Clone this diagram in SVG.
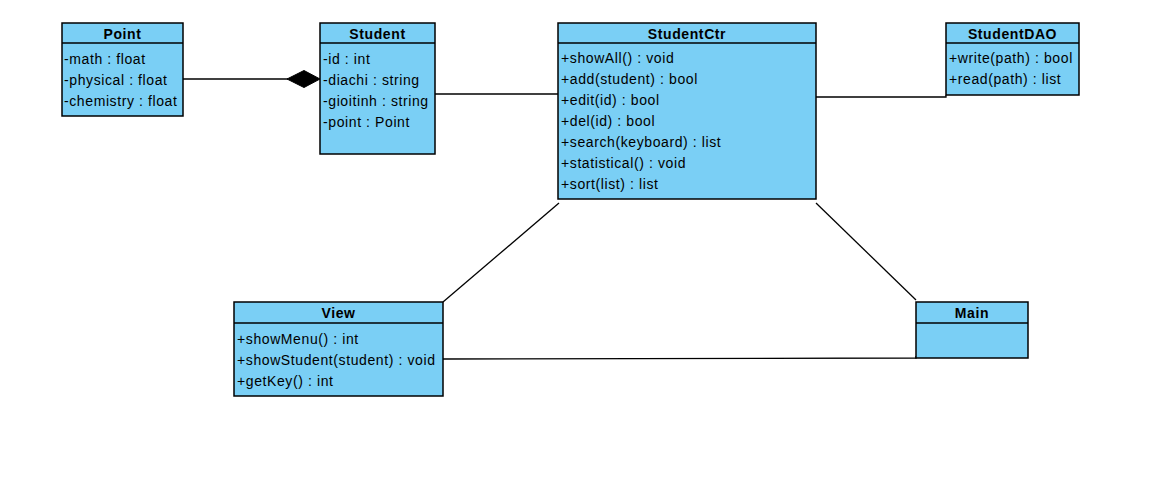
<svg xmlns="http://www.w3.org/2000/svg" width="1155" height="494" viewBox="0 0 1155 494">
<style>
.box{fill:#7acff5;stroke:#000;stroke-width:1.5}
.sep{stroke:#000;stroke-width:1.5}
.t{font-family:"Liberation Sans",Arial,sans-serif;font-size:14px;letter-spacing:0.6px;font-weight:bold;text-anchor:middle;fill:#000}
.m{font-family:"Liberation Sans",Arial,sans-serif;font-size:14px;letter-spacing:0.6px;fill:#000}
.c{stroke:#000;stroke-width:1.3;fill:none}
</style>
<rect width="1155" height="494" fill="#fff"/>
<g id="connectors">
<line class="c" x1="183" y1="79" x2="288" y2="79"/>
<polygon points="287,79 304,70.5 320,79 304,87.5" fill="#000" stroke="#000"/>
<line class="c" x1="435" y1="94" x2="558" y2="94"/>
<polyline class="c" points="816,97 946,97 946,95"/>
<line class="c" x1="559" y1="203" x2="443" y2="302"/>
<line class="c" x1="816" y1="203" x2="916" y2="300"/>
<polyline class="c" points="443,359 916,358 916,356"/>
</g>
<g id="Point">
<rect class="box" x="62" y="23" width="121" height="93"/>
<line class="sep" x1="62" y1="43" x2="183" y2="43"/>
<text class="t" x="122.5" y="38.5">Point</text>
<text class="m" x="64" y="63.5">-math : float</text>
<text class="m" x="64" y="84.5">-physical : float</text>
<text class="m" x="64" y="105.5">-chemistry : float</text>
</g>
<g id="Student">
<rect class="box" x="320" y="23" width="115" height="131"/>
<line class="sep" x1="320" y1="43" x2="435" y2="43"/>
<text class="t" x="377.5" y="38.5">Student</text>
<text class="m" x="323" y="63.5">-id : int</text>
<text class="m" x="323" y="84.5">-diachi : string</text>
<text class="m" x="323" y="105.5">-gioitinh : string</text>
<text class="m" x="323" y="126.5">-point : Point</text>
</g>
<g id="StudentCtr">
<rect class="box" x="558" y="23" width="258" height="176"/>
<line class="sep" x1="558" y1="43" x2="816" y2="43"/>
<text class="t" x="687" y="38.5">StudentCtr</text>
<text class="m" x="561" y="62.5">+showAll() : void</text>
<text class="m" x="561" y="83.5">+add(student) : bool</text>
<text class="m" x="561" y="104.5">+edit(id) : bool</text>
<text class="m" x="561" y="125.5">+del(id) : bool</text>
<text class="m" x="561" y="146.5">+search(keyboard) : list</text>
<text class="m" x="561" y="167.5">+statistical() : void</text>
<text class="m" x="561" y="188.5">+sort(list) : list</text>
</g>
<g id="StudentDAO">
<rect class="box" x="946" y="23" width="133" height="72"/>
<line class="sep" x1="946" y1="43" x2="1079" y2="43"/>
<text class="t" x="1012.5" y="38.5">StudentDAO</text>
<text class="m" x="949" y="62.5">+write(path) : bool</text>
<text class="m" x="949" y="83.5">+read(path) : list</text>
</g>
<g id="View">
<rect class="box" x="234" y="302" width="209" height="94"/>
<line class="sep" x1="234" y1="323" x2="443" y2="323"/>
<text class="t" x="338.5" y="317.5">View</text>
<text class="m" x="237" y="343.5">+showMenu() : int</text>
<text class="m" x="237" y="364.5">+showStudent(student) : void</text>
<text class="m" x="237" y="385.5">+getKey() : int</text>
</g>
<g id="Main">
<rect class="box" x="916" y="302" width="112" height="56"/>
<line class="sep" x1="916" y1="323" x2="1028" y2="323"/>
<text class="t" x="972" y="317.5">Main</text>
</g>
</svg>
